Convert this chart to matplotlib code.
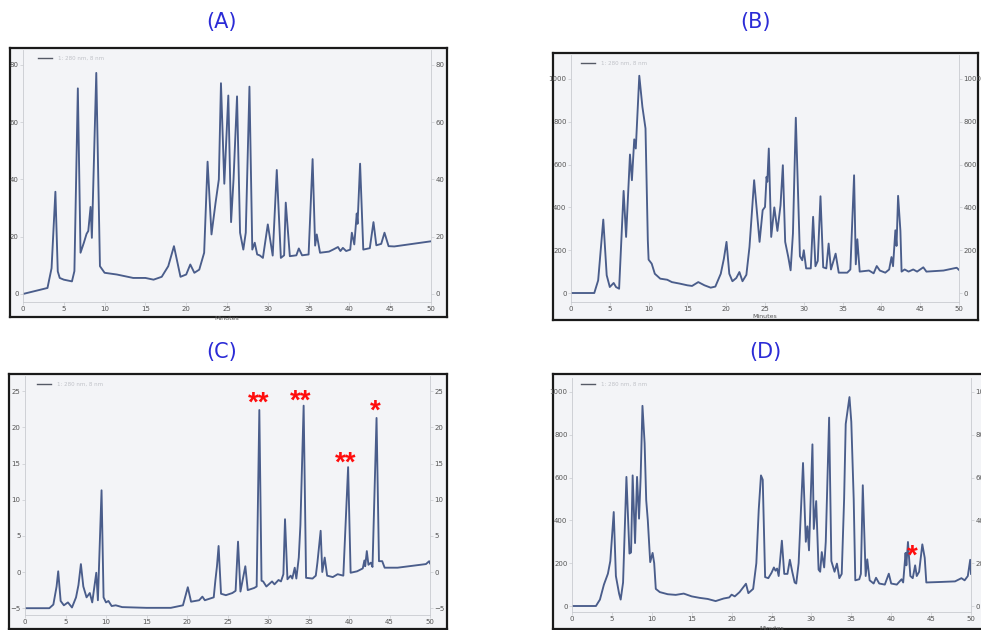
import matplotlib
matplotlib.use("Agg")
import matplotlib.pyplot as plt

# ---- chromatogram traces (retention time in minutes, detector response) ----
a_time = [0, 3.0, 3.5, 3.97, 4.26, 4.5, 5.0, 6.0, 6.3, 6.72, 7.05, 7.46, 7.79, 8.0, 8.28, 8.44,
          8.98, 9.43, 10.0, 11.5, 12.5, 13.5, 15.0, 16.0, 17.0, 17.8, 18.5, 19.3, 20.0, 20.5,
          21.0, 21.6, 22.2, 22.62, 23.1, 23.6, 24.0, 24.26, 24.67, 25.16, 25.5, 25.8, 26.23,
          26.6, 27.0, 27.3, 27.75, 28.1, 28.4, 28.7, 29.0, 29.4, 30.0, 30.6, 31.1, 31.6, 32.0,
          32.2, 32.7, 33.5, 33.8, 34.2, 35.0, 35.49, 35.8, 36.0, 36.4, 37.5, 38.0, 38.6, 38.9,
          39.2, 39.6, 40.1, 40.3, 40.6, 40.9, 41.0, 41.31, 41.7, 42.5, 42.95, 43.3, 43.9, 44.3,
          44.8, 45.5, 50.0]
a_signal = [0, 2.1, 9.0, 35.7, 7.9, 5.6, 5.0, 4.4, 8.0, 71.8, 14.4, 17.9, 21.0, 22.0, 30.4, 19.6,
            77.2, 9.7, 7.4, 6.8, 6.2, 5.6, 5.6, 5.0, 6.0, 9.7, 16.7, 6.0, 6.8, 10.3,
            7.4, 8.5, 14.4, 46.2, 20.8, 31.9, 40.0, 73.6, 38.5, 69.3, 25.1, 40.0, 69.0,
            21.4, 15.5, 21.4, 72.4, 15.5, 17.9, 13.8, 13.5, 12.6, 24.3, 13.4, 43.3, 12.6, 13.5,
            31.9, 13.2, 13.5, 15.9, 13.5, 13.8, 47.1, 16.9, 20.8, 14.4, 14.8, 15.5, 16.4, 15.0,
            16.1, 15.0, 15.5, 21.4, 17.3, 28.1, 24.5, 45.5, 15.5, 16.0, 25.1, 17.0, 17.5, 21.4,
            16.7, 16.6, 18.4]

b_time = [0, 3.0, 3.5, 4.16, 4.6, 5.0, 5.5, 5.8, 6.2, 6.78, 7.1, 7.6, 7.85, 8.15, 8.35, 8.8,
          9.2, 9.6, 9.9, 10.0, 10.4, 10.8, 11.5, 12.4, 13.0, 14.0, 15.0, 15.6, 16.4, 17.2,
          18.0, 18.6, 19.3, 19.7, 20.04, 20.4, 20.8, 21.3, 21.7, 22.1, 22.6, 23.0, 23.6, 24.3,
          24.7, 25.0, 25.2, 25.3, 25.49, 25.8, 26.2, 26.6, 27.0, 27.3, 27.6, 28.0, 28.3, 28.6,
          28.97, 29.5, 29.8, 30.0, 30.3, 30.9, 31.2, 31.5, 31.8, 32.15, 32.5, 32.9, 33.2, 33.5,
          34.1, 34.5, 35.6, 36.0, 36.48, 36.7, 36.9, 37.2, 38.4, 39.0, 39.4, 39.8, 40.5, 41.0,
          41.3, 41.5, 41.8, 41.95, 42.15, 42.45, 42.6, 43.0, 43.5, 44.1, 44.6, 45.4, 45.8,
          48.0, 49.7, 50.0]
b_signal = [0, 0, 59, 343, 83, 28, 47, 28, 20, 477, 262, 647, 527, 718, 675, 1015,
            870, 769, 246, 156, 137, 90, 67, 62, 51, 44, 36, 33, 51, 36,
            25, 30, 90, 160, 239, 90, 55, 70, 98, 55, 85, 215, 527, 239,
            387, 402, 543, 520, 675, 262, 400, 290, 410, 597, 239, 168, 106, 278,
            819, 172, 153, 200, 115, 115, 356, 125, 150, 452, 120, 115, 231, 110,
            184, 95, 95, 110, 550, 134, 251, 100, 105, 92, 126, 105, 95, 110,
            168, 125, 293, 220, 454, 290, 100, 110, 100, 110, 100, 120, 100,
            105, 118, 108]

c_time = [0, 3.0, 3.5, 3.9, 4.1, 4.4, 4.8, 5.3, 5.8, 6.3, 6.6, 6.9, 7.2, 7.6, 8.0, 8.3, 8.8,
          9.0, 9.45, 9.7, 10.0, 10.3, 10.7, 11.2, 12.0, 15.0, 18.0, 19.5, 20.1, 20.5, 21.5,
          21.9, 22.2, 23.3, 23.5, 23.7, 23.9, 24.2, 24.8, 25.6, 26.0, 26.3, 26.6, 27.2, 27.5,
          28.3, 28.6, 28.93, 29.2, 29.4, 29.8, 30.5, 30.8, 31.3, 31.6, 31.9, 32.1, 32.4, 32.8,
          33.0, 33.3, 33.5, 33.8, 34.0, 34.4, 34.7, 35.5, 35.9, 36.1, 36.5, 36.7, 37.0, 37.3,
          38.0, 38.6, 39.3, 39.89, 40.2, 41.0, 41.7, 41.9, 42.0, 42.2, 42.4, 42.7, 42.9, 43.4,
          43.7, 44.1, 44.4, 46.0, 49.5, 49.9, 50.0]
c_signal = [-5, -5, -4.5, -2.0, 0.1, -4.0, -4.6, -4.2, -4.9, -3.5, -1.8, 1.1, -2.0, -3.5, -2.9,
            -4.2, -0.1, -3.9, 11.3, -3.5, -4.2, -4.0, -4.7, -4.6, -4.85, -4.95, -4.95, -4.6,
            -2.1, -4.1, -3.9, -3.4, -3.9, -3.5, -1.2, 0.8, 3.6, -3.0, -3.2, -2.9, -2.6, 4.2,
            -2.7, 0.8, -2.5, -2.2, -2.0, 22.4, -1.2, -1.3, -2.0, -1.3, -1.7, -1.1, -1.3, -0.3,
            7.3, -1.0, -0.5, -0.9, 0.6, -0.9, 2.0, 6.5, 23.0, -0.8, -0.9, -0.5, 1.3, 5.7, 0.0,
            2.0, -0.5, -0.7, -0.3, -0.5, 14.5, -0.1, 0.1, 0.5, 1.6, 0.8, 2.9, 1.0, 1.3, 0.7,
            21.3, 1.5, 1.5, 0.6, 0.6, 1.1, 1.5, 1.2]

d_time = [0, 3.0, 3.5, 4.0, 4.5, 4.8, 5.23, 5.5, 5.9, 6.1, 6.4, 6.82, 7.2, 7.4, 7.6, 7.9, 8.15,
          8.4, 8.6, 8.83, 9.1, 9.3, 9.5, 9.8, 10.1, 10.3, 10.5, 11.0, 12.0, 13.0, 14.0, 15.0,
          16.0, 17.0, 18.0, 19.0, 19.7, 20.0, 20.4, 21.0, 21.8, 22.1, 22.7, 23.1, 23.4, 23.68,
          23.9, 24.2, 24.6, 25.0, 25.3, 25.5, 25.7, 25.9, 26.3, 26.6, 27.0, 27.3, 27.6, 27.9,
          28.1, 28.4, 28.95, 29.3, 29.5, 29.7, 30.13, 30.3, 30.6, 30.9, 31.1, 31.3, 31.6, 31.8,
          32.22, 32.5, 32.9, 33.2, 33.5, 33.8, 34.1, 34.3, 34.77, 35.0, 35.3, 35.5, 36.0, 36.2,
          36.44, 36.8, 37.0, 37.3, 37.8, 38.1, 38.5, 39.2, 39.7, 40.0, 40.7, 41.3, 41.5, 41.8,
          41.9, 42.1, 42.4, 42.7, 43.0, 43.2, 43.5, 43.9, 44.2, 44.4, 46.0, 48.0, 48.8, 49.2,
          49.6, 49.9, 50.0]
d_signal = [0, 0, 30, 100, 151, 210, 439, 140, 58, 30, 110, 603, 245, 250, 610, 294, 603,
            408, 600, 935, 760, 494, 400, 205, 248, 200, 80, 65, 55, 52, 58, 45,
            38, 33, 23, 35, 40, 53, 45, 65, 104, 60, 80, 200, 450, 610,
            590, 135, 130, 155, 180, 165, 175, 140, 305, 150, 150, 216, 160, 110,
            105, 200, 668, 300, 372, 260, 755, 360, 490, 170, 160, 252, 180, 300,
            880, 210, 160, 198, 130, 150, 500, 850, 976, 860, 500, 120, 125, 150,
            564, 140, 218, 120, 105, 132, 105, 100, 151, 105, 100, 125, 110, 248,
            190, 299, 140, 130, 190, 140, 160, 288, 225, 110, 112, 115, 130, 120,
            140, 216, 150]

panel_titles = ["(A)", "(B)", "(C)", "(D)"]
x_ticks = [0, 5, 10, 15, 20, 25, 30, 35, 40, 45, 50]
a_yticks = [0, 20, 40, 60, 80]
b_yticks = [0, 200, 400, 600, 800, 1000]
c_yticks = [-5, 0, 5, 10, 15, 20, 25]
d_yticks = [0, 200, 400, 600, 800, 1000]

# significance marks on peaks: (time, response, label)
c_marks = [(28.8, 23.3, "**"), (34.0, 23.5, "**"), (39.6, 15.0, "**"), (43.2, 22.2, "*")]
d_marks = [(42.7, 229, "*")]

legend_text = "1: 280 nm, 8 nm"

W, H = 981, 630
fig = plt.figure(figsize=(W / 100, H / 100), dpi=100)
fig.patch.set_facecolor("white")


def rect(left, right, top, bottom):
    return [left / W, 1 - bottom / H, (right - left) / W, (bottom - top) / H]


LINE = "#4a5d8b"
AXC = "#c9cbd0"
TXT = "#555555"

panels = [
    dict(title=panel_titles[0], tx=222, ty=22, frame=(10, 447, 48, 317), plot=(23, 431, 50, 302),
         t=a_time, s=a_signal, ylim=(-2.8, 85.2), yt=a_yticks, marks=[], xl_y=318),
    dict(title=panel_titles[1], tx=755, ty=22, frame=(553, 978, 53, 320), plot=(571, 959, 55, 302),
         t=b_time, s=b_signal, ylim=(-42, 1112), yt=b_yticks, marks=[], xl_y=316),
    dict(title=panel_titles[2], tx=222, ty=352, frame=(9, 447, 374, 629), plot=(25, 430, 376, 615),
         t=c_time, s=c_signal, ylim=(-5.94, 27.1), yt=c_yticks, marks=c_marks, xl_y=632),
    dict(title=panel_titles[3], tx=765, ty=352, frame=(553, 985, 374, 629), plot=(572, 971, 378, 612),
         t=d_time, s=d_signal, ylim=(-28, 1065), yt=d_yticks, marks=d_marks, xl_y=629),
]

for p in panels:
    fig.text(p["tx"] / W, 1 - p["ty"] / H, p["title"], color="#2b2bd6", fontsize=15,
             ha="center", va="center")

    # outer bordered frame of each chromatogram window
    fl, fr, ft, fb = p["frame"]
    fax = fig.add_axes(rect(fl, fr, ft, fb))
    fax.set_facecolor("#f3f4f7")
    fax.set_xticks([])
    fax.set_yticks([])
    for sp in fax.spines.values():
        sp.set_color("#1a1a1a")
        sp.set_linewidth(1.6)
    fax.set_zorder(0)

    pl, pr, pt, pb = p["plot"]
    ax = fig.add_axes(rect(pl, pr, pt, pb))
    ax.set_zorder(1)
    ax.patch.set_alpha(0)
    ax.plot(p["t"], p["s"], color=LINE, lw=1.35, solid_joinstyle="round")
    ax.set_xlim(0, 50)
    ax.set_ylim(*p["ylim"])
    ax.set_xticks(x_ticks)
    ax.set_yticks(p["yt"])
    ax.yaxis.set_ticks_position("both")
    ax.tick_params(labelright=True, labelsize=5, colors=TXT, length=2, width=0.5,
                   color=AXC, pad=1.2)
    for name, sp in ax.spines.items():
        sp.set_color(AXC)
        sp.set_linewidth(0.6)
    ax.spines["top"].set_visible(False)
    fig.text((pl + pr) / 2 / W, 1 - p["xl_y"] / H, "Minutes", fontsize=4.5, color=TXT,
             ha="center", va="center")

    # small legend in the upper-left corner
    lx0 = fl + 28
    ly = ft + 10
    ax.plot([lx0 / W, (lx0 + 14) / W], [1 - ly / H] * 2, transform=fig.transFigure,
            color="#555a66", lw=1.0)
    fig.text((lx0 + 20) / W, 1 - ly / H, legend_text, fontsize=4, color="#c0c2c8",
             va="center", ha="left")

    for (mt, mv, lab) in p["marks"]:
        ax.text(mt, mv, lab, color="#ff0d0d", fontsize=20, fontweight="bold",
                family="Liberation Sans", ha="center", va="center")

fig.savefig("out.png", dpi=100, facecolor="white")
